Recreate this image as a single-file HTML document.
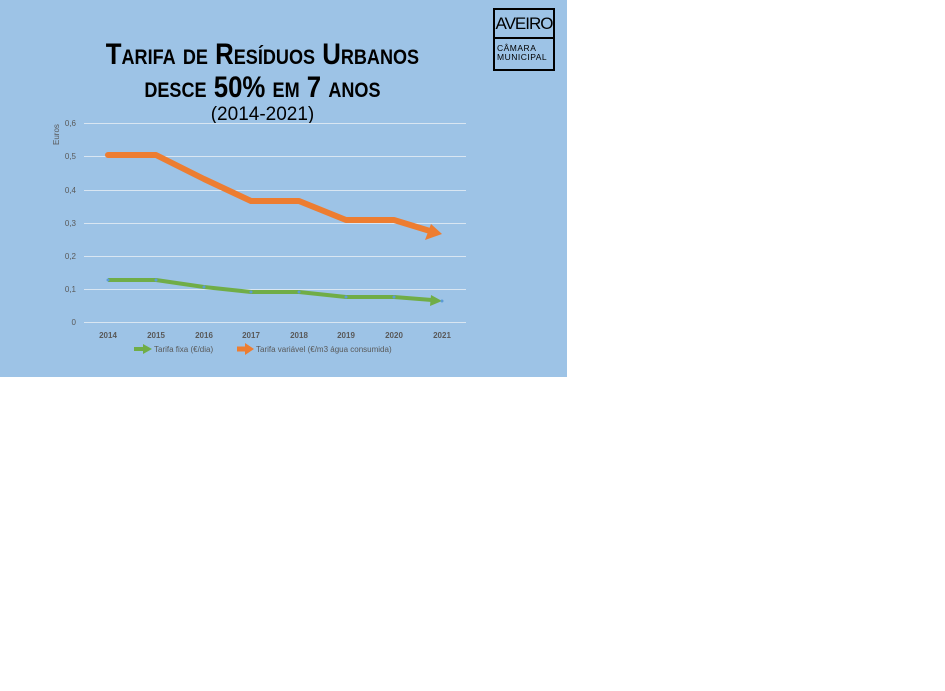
<!DOCTYPE html>
<html><head><meta charset="utf-8"><style>
body{margin:0;width:945px;height:691px;background:#fff;overflow:hidden;font-family:"Liberation Sans",sans-serif}
#p{position:absolute;left:0;top:0;width:567px;height:377px;background:#9dc3e6}
.t{position:absolute;left:0;width:525px;text-align:center;color:#000;font-weight:bold;font-variant:small-caps;transform:scaleX(0.86);transform-origin:262px 0}
</style></head><body>
<div id="p">
<div class="t" style="top:37px;font-size:30px;line-height:36px">Tarifa de Resíduos Urbanos</div>
<div class="t" style="top:70px;font-size:30px;line-height:36px">desce <span style="font-variant:normal">50%</span> em <span style="font-variant:normal">7</span> anos</div>
<div class="t" style="top:104px;font-size:19px;line-height:22px;font-weight:normal;font-variant:normal;transform:none">(2014-2021)</div>
<div style="position:absolute;left:493px;top:8px;width:58px;height:59px;border:2px solid #000;overflow:hidden">
<div style="height:27px;border-bottom:2px solid #000;font-size:17px;line-height:27px;text-align:center;letter-spacing:-1px">AVEIRO</div>
<div style="font-size:8.5px;line-height:9px;padding:5px 0 0 2px;letter-spacing:0.5px">CÂMARA<br>MUNICIPAL</div>
</div>
<svg width="567" height="377" style="position:absolute;left:0;top:0" font-family="Liberation Sans" font-size="8" fill="#595959">
<g stroke="#d9e6f2" stroke-width="1">
<line x1="84" x2="466" y1="123.5" y2="123.5"/><line x1="84" x2="466" y1="156.5" y2="156.5"/><line x1="84" x2="466" y1="190.5" y2="190.5"/><line x1="84" x2="466" y1="223.5" y2="223.5"/><line x1="84" x2="466" y1="256.5" y2="256.5"/><line x1="84" x2="466" y1="289.5" y2="289.5"/><line x1="84" x2="466" y1="322.5" y2="322.5"/>
</g>
<g text-anchor="end"><text x="76" y="126">0,6</text><text x="76" y="159">0,5</text><text x="76" y="193">0,4</text><text x="76" y="226">0,3</text><text x="76" y="259">0,2</text><text x="76" y="292">0,1</text><text x="76" y="325">0</text></g>
<text transform="translate(59,145) rotate(-90)">Euros</text>
<g text-anchor="middle" font-weight="bold" font-size="8"><text x="108" y="338">2014</text><text x="156" y="338">2015</text><text x="204" y="338">2016</text><text x="251" y="338">2017</text><text x="299" y="338">2018</text><text x="346" y="338">2019</text><text x="394" y="338">2020</text><text x="442" y="338">2021</text></g>
<polyline points="108,155 156,155 204,179 251,201 299,201 346,220 394,220 430,231" fill="none" stroke="#ed7d31" stroke-width="6" stroke-linecap="round" stroke-linejoin="round"/>
<polygon points="442,234 425,240 431,224" fill="#ed7d31"/>
<polyline points="108,280 156,280 204,287 251,292 299,292 346,297 394,297 432,300" fill="none" stroke="#70ad47" stroke-width="4" stroke-linejoin="round"/>
<polygon points="442,301 430,306 431,295" fill="#70ad47"/>
<g fill="#5b9bd5"><circle cx="108" cy="280" r="1.5"/><circle cx="156" cy="280" r="1.5"/><circle cx="204" cy="287" r="1.5"/><circle cx="251" cy="292" r="1.5"/><circle cx="299" cy="292" r="1.5"/><circle cx="346" cy="297" r="1.5"/><circle cx="394" cy="297" r="1.5"/><circle cx="442" cy="301" r="1.5"/></g>
<line x1="134" x2="145" y1="349" y2="349" stroke="#70ad47" stroke-width="4"/><polygon points="152,349 143,344 143,354" fill="#70ad47"/>
<text x="154" y="352">Tarifa fixa (€/dia)</text>
<line x1="237" x2="247" y1="349" y2="349" stroke="#ed7d31" stroke-width="5"/><polygon points="254,349 245,343 245,355" fill="#ed7d31"/>
<text x="256" y="352">Tarifa variável (€/m3 água consumida)</text>
</svg>
</div>
</body></html>
